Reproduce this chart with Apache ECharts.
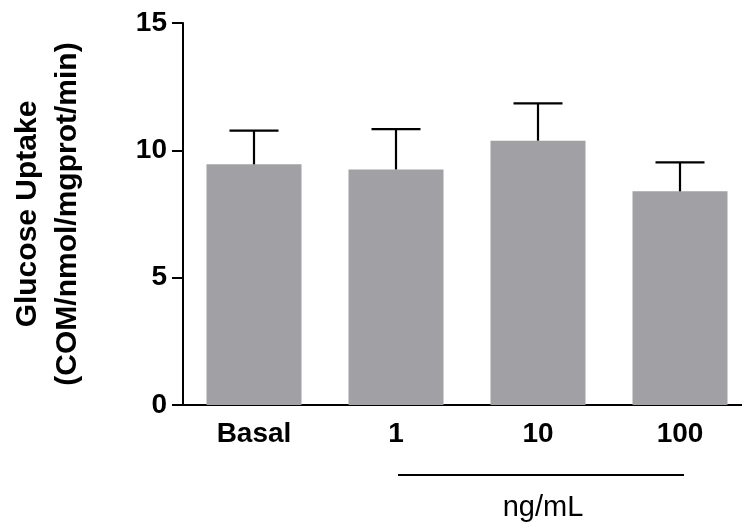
<!DOCTYPE html>
<html>
<head>
<meta charset="utf-8">
<script src="https://cdn.jsdelivr.net/npm/echarts@6/dist/echarts.min.js"></script>
<style>
  html, body { margin: 0; padding: 0; background: #fff; overflow: hidden; }
  #chart { width: 752px; height: 530px; }
</style>
</head>
<body>
<div id="chart"></div>
<script>
var categories = ['Basal', '1', '10', '100'];
var means = [9.45, 9.25, 10.38, 8.39];
var sems = [1.32, 1.58, 1.46, 1.14];
var yTicks = [0, 5, 10, 15];
var unitLabel = 'ng/mL';

var fontFamily = '"Liberation Sans", Arial, Helvetica, sans-serif';
var barColor = '#a1a1a5';

var errData = means.map(function (m, i) {
    return [i, m, sems[i]];
});

// the plot runs off the right edge of the picture, so the canvas is a bit wider than the window
var chart = echarts.init(document.getElementById('chart'));

var option = {
    animation: false,
    grid: {
        left: 179,
        top: 23,
        right: 1,
        bottom: 125,
        containLabel: false
    },
    xAxis: {
        type: 'category',
        data: categories,
        axisLine: { lineStyle: { color: '#000', width: 2 } },
        axisTick: { alignWithLabel: true, length: 10, lineStyle: { color: '#000', width: 2 } },
        axisLabel: {
            color: '#000',
            fontSize: 28,
            fontWeight: 'bold',
            fontFamily: fontFamily,
            margin: 15
        }
    },
    yAxis: {
        type: 'value',
        min: yTicks[0],
        max: yTicks[yTicks.length - 1],
        interval: 5,
        name: 'Glucose Uptake\n(COM/nmol/mgprot/min)',
        nameLocation: 'middle',
        nameRotate: 90,
        nameGap: 95,
        nameTextStyle: {
            color: '#000',
            fontSize: 30,
            fontWeight: 'bold',
            fontFamily: fontFamily,
            lineHeight: 40
        },
        splitLine: { show: false },
        axisLine: { show: true, lineStyle: { color: '#000', width: 2 } },
        axisTick: { show: true, length: 11, lineStyle: { color: '#000', width: 2 } },
        axisLabel: {
            color: '#000',
            fontSize: 28,
            fontWeight: 'bold',
            fontFamily: fontFamily,
            margin: 16
        }
    },
    series: [
        {
            type: 'bar',
            data: means,
            barWidth: 95,
            itemStyle: { color: barColor },
            z: 2
        },
        {
            type: 'custom',
            data: errData,
            z: 3,
            renderItem: function (params, api) {
                var x = api.value(0);
                var m = api.value(1);
                var s = api.value(2);
                var base = api.coord([x, m]);
                var top = api.coord([x, m + s]);
                var half = 24.5;
                var style = { stroke: '#000', lineWidth: 2.2 };
                return {
                    type: 'group',
                    children: [
                        { type: 'line', shape: { x1: base[0], y1: base[1], x2: top[0], y2: top[1] }, style: style },
                        { type: 'line', shape: { x1: top[0] - half, y1: top[1], x2: top[0] + half, y2: top[1] }, style: style }
                    ]
                };
            }
        }
    ]
};

chart.setOption(option);

// bracket line under the concentration groups, placed from the axis scale
var p1 = chart.convertToPixel({ gridIndex: 0 }, [categories[1], 0]);
var p3 = chart.convertToPixel({ gridIndex: 0 }, [categories[3], 0]);
var lineY = p1[1] + 70;

chart.setOption({
    graphic: [
        {
            type: 'line',
            shape: { x1: p1[0] + 2, y1: lineY, x2: p3[0] + 4, y2: lineY },
            style: { stroke: '#000', lineWidth: 2 }
        },
        {
            type: 'text',
            x: (p1[0] + p3[0]) / 2 + 5,
            y: lineY + 33,
            style: {
                text: unitLabel,
                fill: '#000',
                fontSize: 29,
                fontFamily: fontFamily,
                align: 'center',
                verticalAlign: 'middle'
            }
        }
    ]
});
</script>
</body>
</html>
